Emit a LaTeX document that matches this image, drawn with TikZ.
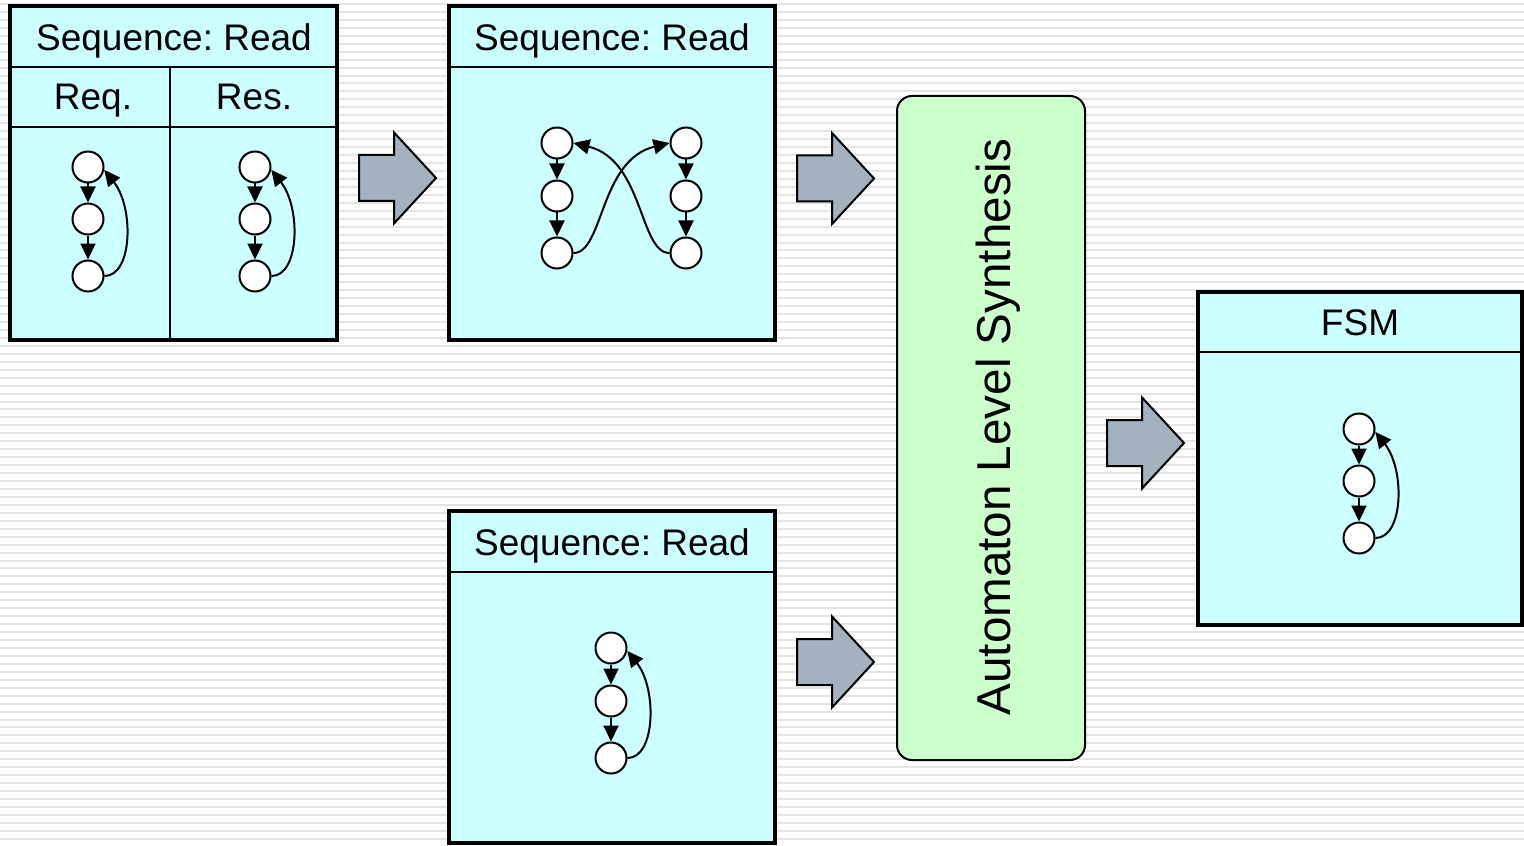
\documentclass[tikz,border=0pt]{standalone}
\usepackage{fontspec}
\setmainfont{Liberation Sans}
\usetikzlibrary{arrows.meta}
\definecolor{cellfill}{HTML}{CCFFFF}
\definecolor{synthfill}{HTML}{CCFFCC}
\definecolor{arrowfill}{HTML}{A4B1BF}
\definecolor{stripe}{HTML}{E4E4E4}
\frenchspacing

\begin{document}
\begin{tikzpicture}[x=0.5pt,y=-0.5pt,
  panel/.style={draw=black, line width=2pt, fill=cellfill},
  divider/.style={draw=black, line width=1pt},
  state/.style={circle, draw=black, line width=1pt, fill=white,
                minimum size=15.5pt, inner sep=0pt},
  trans/.style={line width=1pt, -{Triangle[length=8pt,width=7.5pt]}},
  title/.style={font=\fontsize{18.5}{22}\selectfont, anchor=base, inner sep=0pt},
  flow/.style={draw=black, line width=1pt, fill=arrowfill, line join=miter},
  flowarrow/.pic={
    \draw[flow] (0,-23) -- (35,-23) -- (35,-45.5) -- (77,0) -- (35,45.5)
                -- (35,23) -- (0,23) -- cycle;
  },
]
\useasboundingbox (0,0) rectangle (1524,845);

% striped page background
\fill[white] (0,0) rectangle (1524,845);
\foreach \k in {0,...,106}
  \draw[stripe, line width=1pt] (0,4+7.95*\k) -- (1524,4+7.95*\k);

% ---- split sequence: request / response ----
\draw[panel] (10,6) rectangle (337,340);
\draw[divider] (10,67) -- (337,67);
\draw[divider] (10,127) -- (337,127);
\draw[divider] (170,67) -- (170,340);
\draw[black, line width=2pt] (10,6) rectangle (337,340);
\node[title] (t1) at (174,51) {Sequence: Read};
\node[title] (req) at (93,110) {Req.};
\node[title] (res) at (254,110) {Res.};

\node[state] (a1) at (88,167) {};
\node[state] (a2) at (88,219) {};
\node[state] (a3) at (88,276) {};
\draw[trans] (a1) -- (a2);
\draw[trans] (a2) -- (a3);
\draw[trans] (a3.east) .. controls +(28,0) and +(30,38) .. (a1.-10);

\node[state] (b1) at (255,167) {};
\node[state] (b2) at (255,219) {};
\node[state] (b3) at (255,276) {};
\draw[trans] (b1) -- (b2);
\draw[trans] (b2) -- (b3);
\draw[trans] (b3.east) .. controls +(28,0) and +(30,38) .. (b1.-10);

% ---- merged sequence ----
\draw[panel] (449,6) rectangle (775,340);
\draw[divider] (449,67) -- (775,67);
\draw[black, line width=2pt] (449,6) rectangle (775,340);
\node[title] (t2) at (612,51) {Sequence: Read};

\node[state] (l1) at (557,143) {};
\node[state] (l2) at (557,196) {};
\node[state] (l3) at (557,253) {};
\node[state] (r1) at (686,143) {};
\node[state] (r2) at (686,196) {};
\node[state] (r3) at (686,253) {};
\draw[trans] (l1) -- (l2);
\draw[trans] (l2) -- (l3);
\draw[trans] (r1) -- (r2);
\draw[trans] (r2) -- (r3);
\draw[trans] (l3.east) .. controls +(30,0) and +(-70,17) .. (r1.west);
\draw[trans] (r3.west) .. controls +(-30,0) and +(70,17) .. (l1.east);

% ---- single sequence ----
\draw[panel] (449,511) rectangle (775,843);
\draw[divider] (449,572) -- (775,572);
\draw[black, line width=2pt] (449,511) rectangle (775,843);
\node[title] (t3) at (612,555) {Sequence: Read};

\node[state] (d1) at (611,648) {};
\node[state] (d2) at (611,701) {};
\node[state] (d3) at (611,758) {};
\draw[trans] (d1) -- (d2);
\draw[trans] (d2) -- (d3);
\draw[trans] (d3.east) .. controls +(28,0) and +(30,38) .. (d1.-10);

% ---- synthesis step ----
\draw[line width=1pt, fill=synthfill, rounded corners=7.5pt]
  (897,96) rectangle (1085,760);
\node[font=\fontsize{23.8}{28}\selectfont, rotate=90, anchor=base, inner sep=0pt]
  (syn) at (1010,427) {Automaton Level Synthesis};

% ---- resulting FSM ----
\draw[panel] (1198,292) rectangle (1522,625);
\draw[divider] (1198,352) -- (1522,352);
\draw[black, line width=2pt] (1198,292) rectangle (1522,625);
\node[title] (t4) at (1360,335) {FSM};

\node[state] (f1) at (1359,429) {};
\node[state] (f2) at (1359,481) {};
\node[state] (f3) at (1359,538) {};
\draw[trans] (f1) -- (f2);
\draw[trans] (f2) -- (f3);
\draw[trans] (f3.east) .. controls +(28,0) and +(30,38) .. (f1.-10);

% ---- flow arrows ----
\pic at (359,178) {flowarrow};
\pic at (797,178.5) {flowarrow};
\pic at (797,662) {flowarrow};
\pic at (1107,443) {flowarrow};
\end{tikzpicture}
\end{document}
